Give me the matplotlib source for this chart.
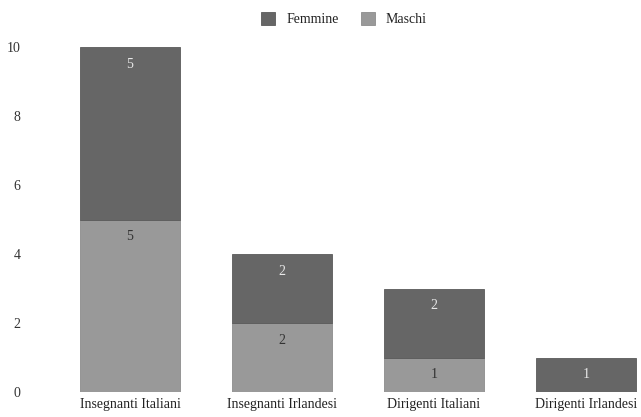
import matplotlib.pyplot as plt
import numpy as np

plt.rcParams['font.family'] = ['Liberation Serif', 'DejaVu Serif']

# dati
categorie = ['Insegnanti Italiani', 'Insegnanti Irlandesi', 'Dirigenti Italiani', 'Dirigenti Irlandesi']
maschi = [5, 2, 1, 0]
femmine = [5, 2, 2, 1]
yticks = [0, 2, 4, 6, 8, 10]

c_f = '#666666'
c_m = '#999999'

fig = plt.figure(figsize=(6.41, 4.17), dpi=100)
ax = fig.add_axes([54/641, 25/417, 1 - 54/641, 345/417])

x = np.arange(len(categorie))
w = 0.66
bm = ax.bar(x, maschi, w, color=c_m, edgecolor='#8c8c8c', linewidth=0.6, label='Maschi')
bf = ax.bar(x, femmine, w, bottom=maschi, color=c_f, edgecolor='#5a5a5a', linewidth=0.6, label='Femmine')

for i in range(len(categorie)):
    if maschi[i] > 0:
        ax.text(x[i], maschi[i] - 0.5, str(maschi[i]), ha='center', va='center',
                color='#333333', fontsize=10)
    if femmine[i] > 0:
        ax.text(x[i], maschi[i] + femmine[i] - 0.5, str(femmine[i]), ha='center', va='center',
                color='#e8e8e8', fontsize=10)

ax.set_xlim(-0.5, (641 - 130) / 152)
ax.set_ylim(0, 10)
ax.set_xticks(x)
ax.set_xticklabels(categorie, fontsize=10, color='#222222')
ax.set_yticks(yticks)
ax.set_yticklabels([str(v) for v in yticks], fontsize=10, color='#333333')
ax.tick_params(axis='both', length=0)
ax.tick_params(axis='y', pad=24)
ax.tick_params(axis='x', pad=4)
for s in ax.spines.values():
    s.set_visible(False)

fig.legend(handles=[bf, bm], labels=['Femmine', 'Maschi'], loc='upper center',
           bbox_to_anchor=(0.537, 1.0), ncol=2, frameon=False, fontsize=10,
           handlelength=1.0, handleheight=1.0, columnspacing=1.6, handletextpad=0.8,
           labelcolor='#222222')

fig.savefig('out.png', dpi=100)
